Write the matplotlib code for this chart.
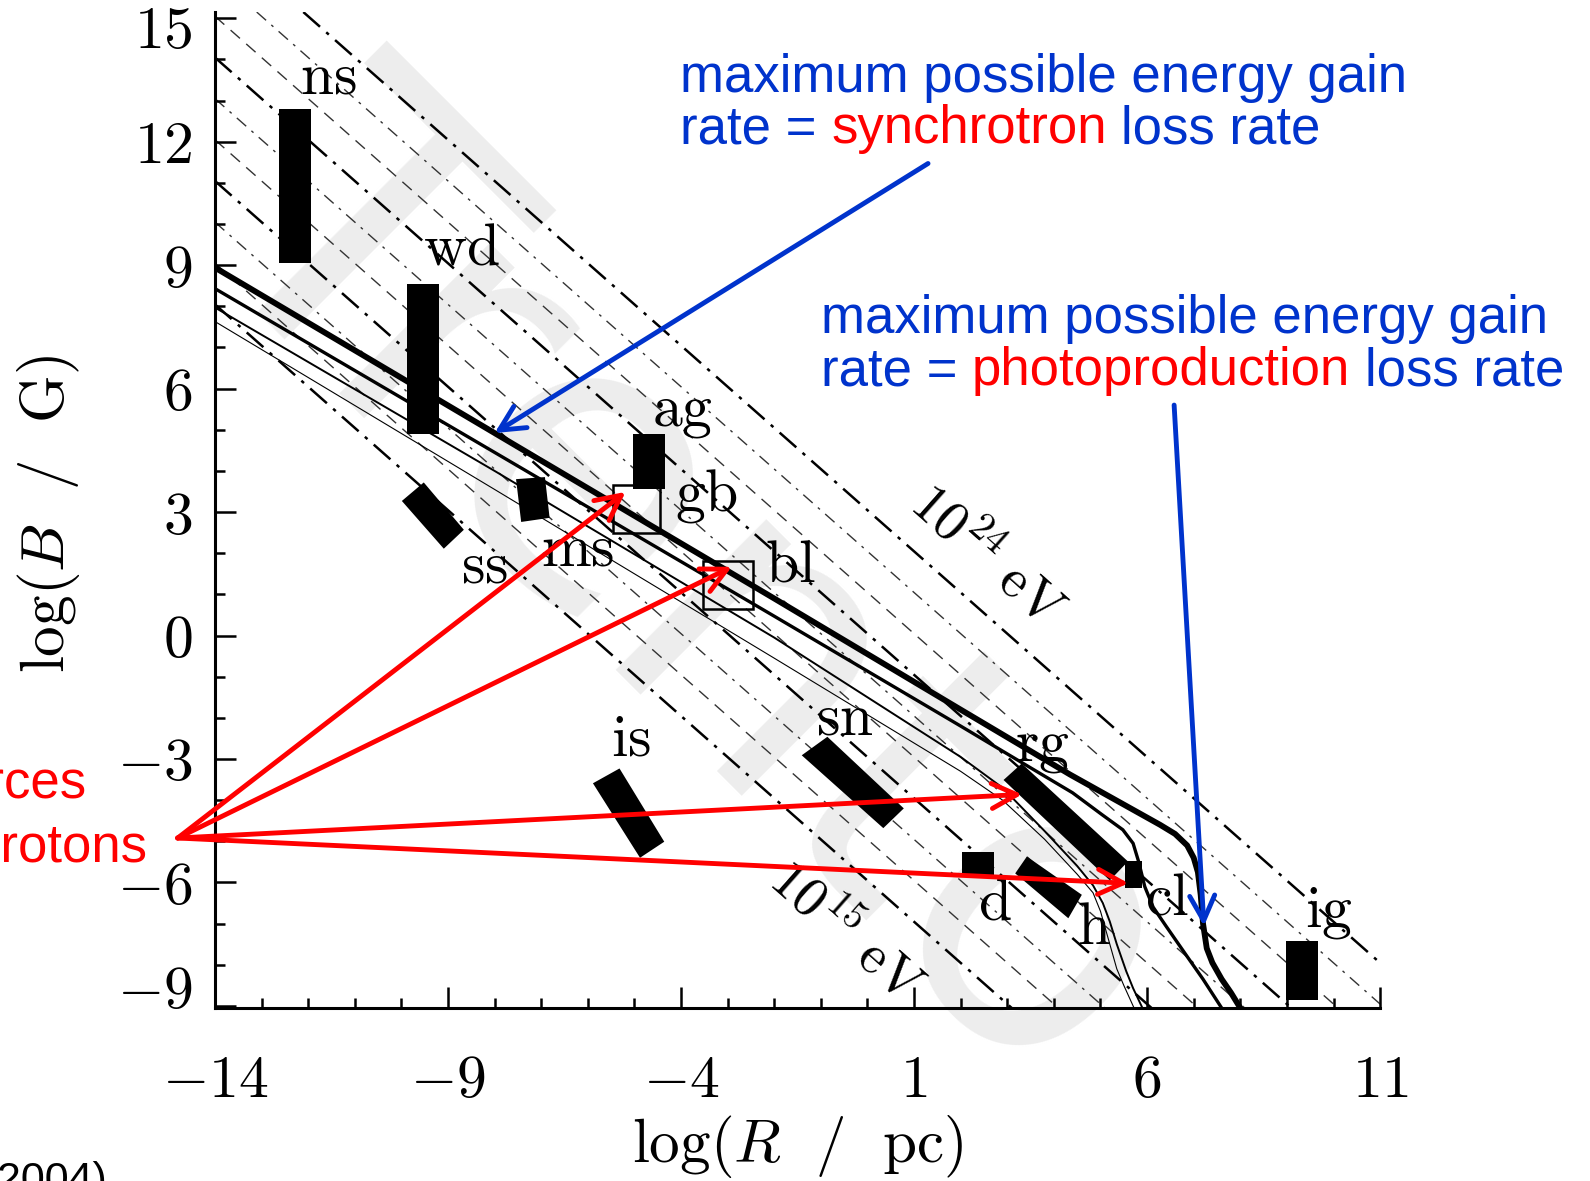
import numpy as np
import matplotlib.pyplot as plt
from matplotlib.patches import Polygon, Rectangle
from matplotlib.ticker import MultipleLocator
from matplotlib.transforms import IdentityTransform, ScaledTranslation

plt.rcParams['mathtext.fontset'] = 'cm'
plt.rcParams['font.family'] = ['Liberation Sans', 'DejaVu Sans']
plt.rcParams['lines.scale_dashes'] = False

BLUE = '#0033cc'
RED = '#ff0000'

# ticks
x_major = [-14, -9, -4, 1, 6, 11]
y_major = [-9, -6, -3, 0, 3, 6, 9, 12, 15]

# Hillas lines: log10(E_max / eV) for protons, beta = 1
log_emax = [15, 16, 17, 18, 19, 20, 21, 22, 23, 24]

# maximum energy curves (log R / pc, log B / G)
thick_r = [-14, -8, -2, 2, 4.35, 5.6, 6.28, 6.6, 6.86, 7.0, 7.09, 7.15, 7.2, 7.28, 7.4, 7.6, 7.8, 8.0]
thick_b = [8.94, 4.92, 0.9, -1.8, -3.38, -4.17, -4.6, -4.82, -5.1, -5.4, -5.75, -6.3, -7.0, -7.6, -7.95, -8.35, -8.68, -9.05]
medium_r = [-14, -8, -2, 2, 3.42, 4.4, 5.03, 5.48, 5.7, 5.82, 5.95, 6.13, 6.4, 6.86, 7.2, 7.6]
medium_b = [8.43, 4.45, 0.47, -2.2, -3.16, -3.82, -4.35, -4.72, -5.05, -5.5, -6.1, -6.6, -7.05, -7.8, -8.35, -9.05]
thin_r = [-14, -8, -2, 2, 2.9, 3.8, 4.5, 4.84, 5.05, 5.2, 5.35, 5.55, 5.7, 5.9]
thin_b = [7.97, 4.0, -0.05, -2.95, -3.7, -4.75, -5.6, -6.07, -6.5, -6.95, -7.5, -8.15, -8.57, -9.05]
vthin_r = [-14, -8, -2, 2, 2.9, 3.8, 4.5, 4.84, 5.0, 5.15, 5.35, 5.5, 5.72]
vthin_b = [7.63, 3.55, -0.55, -3.3, -4.0, -4.95, -5.8, -6.25, -6.7, -7.3, -8.1, -8.5, -9.05]

# filled rectangular sources: (R range, B range)
rect_names = ['ns', 'wd', 'ag', 'd', 'cl', 'ig']
rect_r = [(-12.63, -11.93), (-9.88, -9.19), (-5.03, -4.34), (2.03, 2.71), (5.53, 5.89), (8.98, 9.67)]
rect_b = [(9.05, 12.79), (4.9, 8.55), (3.56, 4.9), (-5.87, -5.27), (-6.14, -5.49), (-8.85, -7.43)]

# open boxes
open_names = ['gb', 'bl']
open_r = [(-5.45, -4.46), (-3.52, -2.45)]
open_b = [(2.5, 3.66), (0.65, 1.82)]

# tilted sources, corners
tilt_names = ['ss', 'ms', 'is', 'sn', 'rg', 'h']
tilt_corners = [
    [(-9.99, 3.27), (-9.52, 3.72), (-8.66, 2.57), (-9.09, 2.11)],
    [(-7.54, 3.80), (-6.92, 3.85), (-6.82, 2.86), (-7.43, 2.76)],
    [(-5.89, -3.59), (-5.32, -3.23), (-4.36, -5.01), (-4.88, -5.4)],
    [(-1.41, -2.91), (-0.86, -2.46), (0.78, -4.2), (0.34, -4.68)],
    [(2.92, -3.51), (3.31, -3.11), (5.59, -5.49), (5.2, -5.95)],
    [(3.17, -5.78), (3.42, -5.37), (4.6, -6.3), (4.31, -6.87)],
]

# source labels
label_names = ['ns', 'wd', 'ag', 'gb', 'bl', 'ss', 'ms', 'is', 'sn', 'rg', 'd', 'h', 'cl', 'ig']
label_r = [-11.57, -8.72, -3.98, -3.45, -1.66, -8.21, -6.21, -5.08, -0.48, 3.74, 2.74, 4.87, 6.42, 9.9]
label_b = [13.54, 9.4, 5.41, 3.4, 1.7, 1.67, 2.07, -2.54, -2.02, -2.72, -6.53, -7.11, -6.4, -6.75]

# arrows from the annotations
red_origin = (-14.8, -4.92)
red_targets = [(-5.19, 3.49), (-2.91, 1.67), (3.32, -3.86), (5.6, -6.02)]
blue_tails = [(1.3, 11.47), (6.58, 5.6)]
blue_tips = [(-8.0, 4.92), (7.22, -7.06)]

fig = plt.figure(figsize=(15.9, 11.81), dpi=100)
fig.text(0.434, 0.5, 'Trento', rotation=-45, fontsize=280, color='#ededed',
         ha='center', va='center', family='DejaVu Sans', zorder=-5)

ax = fig.add_axes([0.1352, 0.1465, 0.7328, 0.8433])
ax.patch.set_alpha(0)
ax.set_xlim(-14, 11)
ax.set_ylim(-9.05, 15.15)

# lines of constant maximum energy
for e in log_emax:
    c = e - np.log10(9e20)
    if (e - 15) % 3 == 0:
        ax.axline((0, c), slope=-1, color='k', lw=1.8, dashes=(16, 6, 2.5, 6), zorder=1)
    elif e % 3 == 1:
        ax.axline((0, c), slope=-1, color='#333333', lw=1.0, dashes=(9, 6), zorder=1)
    else:
        ax.axline((0, c), slope=-1, color='#333333', lw=1.0, dashes=(9, 5, 2, 5), zorder=1)

ax.text(2.55, 1.91, r'$10^{24}\ \mathrm{eV}$', fontsize=40, rotation=-45,
        transform_rotates_text=True, rotation_mode='anchor', ha='center', va='center')
ax.text(-0.49, -7.23, r'$10^{15}\ \mathrm{eV}$', fontsize=40, rotation=-45,
        transform_rotates_text=True, rotation_mode='anchor', ha='center', va='center')

ax.plot(thick_r, thick_b, color='k', lw=4.2, zorder=3)
ax.plot(medium_r, medium_b, color='k', lw=2.4, zorder=3)
ax.plot(thin_r, thin_b, color='k', lw=1.4, zorder=3)
ax.plot(vthin_r, vthin_b, color='k', lw=0.8, zorder=3)

for (r0, r1), (b0, b1) in zip(rect_r, rect_b):
    ax.add_patch(Rectangle((r0, b0), r1 - r0, b1 - b0, fc='k', ec='none', zorder=4))
for (r0, r1), (b0, b1) in zip(open_r, open_b):
    ax.add_patch(Rectangle((r0, b0), r1 - r0, b1 - b0, fill=False, ec='k', lw=1.8, zorder=4))
for corners in tilt_corners:
    ax.add_patch(Polygon(corners, closed=True, fc='k', ec='none', zorder=4))

for name, r, b in zip(label_names, label_r, label_b):
    ax.text(r, b, r'$\mathrm{%s}$' % name, fontsize=43, ha='center', va='center', zorder=5)

head = '->,head_length=0.9,head_width=0.45'
for tip in red_targets:
    ax.annotate('', xy=tip, xytext=red_origin, annotation_clip=False,
                arrowprops=dict(arrowstyle=head, color=RED, lw=3.5, mutation_scale=20,
                                shrinkA=0, shrinkB=0), zorder=6)
for tail, tip in zip(blue_tails, blue_tips):
    ax.annotate('', xy=tip, xytext=tail, annotation_clip=False,
                arrowprops=dict(arrowstyle=head, color=BLUE, lw=3.5, mutation_scale=20,
                                shrinkA=0, shrinkB=0), zorder=6)

# axes styling
for side in ['top', 'right']:
    ax.spines[side].set_visible(False)
for side in ['left', 'bottom']:
    ax.spines[side].set_linewidth(2.2)
ax.set_xticks(x_major, labels=[r'$%d$' % v for v in x_major])
ax.set_yticks(y_major, labels=[r'$%d$' % v for v in y_major])
ax.xaxis.set_minor_locator(MultipleLocator(1))
ax.yaxis.set_minor_locator(MultipleLocator(1))
ax.tick_params(which='both', direction='in', width=1.8, top=False, right=False)
ax.tick_params(which='major', length=15)
ax.tick_params(which='minor', length=7.5)
ax.tick_params(axis='x', labelsize=43, pad=33)
ax.tick_params(axis='y', labelsize=43, pad=16)

# end labels of the y axis sit a little inside the axis range
ylabels = ax.get_yticklabels()
ylabels[0].set_transform(ylabels[0].get_transform()
                         + ScaledTranslation(0, 14 / 72, fig.dpi_scale_trans))
ylabels[-1].set_transform(ylabels[-1].get_transform()
                          + ScaledTranslation(0, -6 / 72, fig.dpi_scale_trans))

ax.set_xlabel(r'$\log(R\ \ /\ \ \mathrm{pc})$', fontsize=44, va='center')
ax.xaxis.set_label_coords(0.5, -0.1386)
ax.set_ylabel(r'$\log(B\ \ /\ \ \mathrm{G})$', fontsize=44, va='center')
ax.yaxis.set_label_coords(-0.1433, 0.496)

# coloured annotation text, pixel positions from the top-left corner
renderer = fig.canvas.get_renderer()
H = 1181


def text_width(s, size):
    t = fig.text(0, 0, s, fontsize=size)
    w = t.get_window_extent(renderer).width
    t.remove()
    return w


def word_line(x, y, parts, size=38, ha='left'):
    gap = text_width('x x', size) - text_width('xx', size)
    for s, color in parts:
        t = fig.text(x, H - y, s, fontsize=size, color=color, ha=ha, va='baseline',
                     transform=IdentityTransform())
        x += t.get_window_extent(renderer).width + gap


word_line(680, 92, [('maximum possible energy gain', BLUE)])
word_line(680, 143, [('rate =', BLUE), ('synchrotron', RED), ('loss rate', BLUE)])
word_line(821, 333, [('maximum possible energy gain', BLUE)])
word_line(821, 385, [('rate =', BLUE), ('photoproduction', RED), ('loss rate', BLUE)])

fig.text(86, H - 798, 'candidate sources', fontsize=38, color=RED, ha='right', va='baseline',
         transform=IdentityTransform())
fig.text(147, H - 862, 'of UHE protons', fontsize=38, color=RED, ha='right', va='baseline',
         transform=IdentityTransform())
fig.text(107, H - 1161, '(Protheroe 2004)', fontsize=31, color='k', ha='right', va='top',
         transform=IdentityTransform())

fig.savefig('out.png', dpi=100)
